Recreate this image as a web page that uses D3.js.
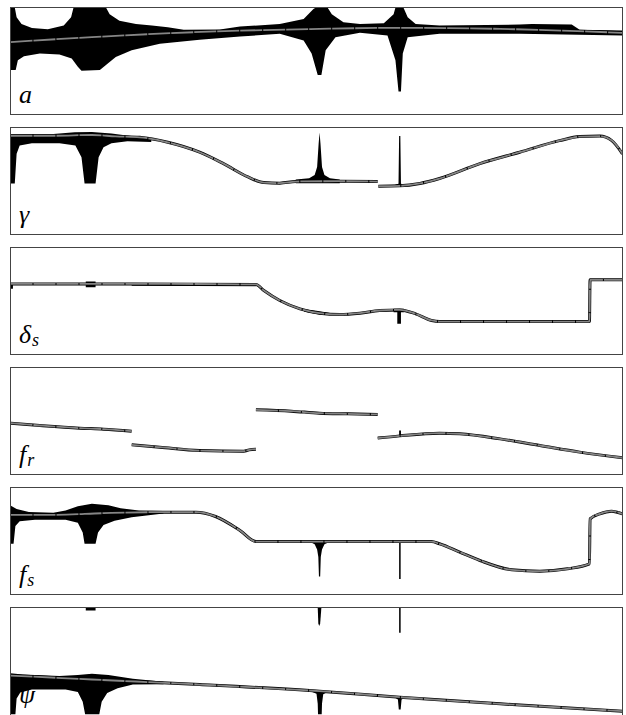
<!DOCTYPE html>
<html>
<head>
  <meta http-equiv="Content-Type" content="text/html; charset=UTF-8" />
  <title>Parameter traces</title>
  <style>
    body {
      padding: 0;
      margin: 0;
      background: #fff;
    }
  </style>
</head>
<body>

<svg width="626" height="715"></svg>

<script src="https://d3js.org/d3.v7.min.js"></script>
<script>

// x: percent along the run, v: percent of panel height (100 = top edge)

var labels = [["a"], ["γ"], ["δ", "s"], ["f", "r"], ["f", "s"], ["ψ"]]

// --- a
var a_mean = [[0,67.7],[13.3,72.3],[30,76.9],[50.5,80],[63.6,81],[80,80],[100,76.3]]
var a_hi = [[0,100],[0.7,100],[1.0,90.8],[1.8,84.6],[3.5,80.9],[6.1,79.7],[8.7,83.1],[9.9,90.8],[10.3,100],
  [15.6,100],[16.2,93.8],[17.8,87.7],[20.5,84.6],[23.1,83.1],[25.7,81.5],[28.3,79.1],[34.2,79.4],[37.5,82.2],
  [44.0,84.6],[47.9,89.2],[49.5,98.5],[49.9,100],[51.8,100],[52.5,93.8],[54.4,86.2],[57.1,84.6],[61.0,85.2],
  [62.6,93.8],[62.9,100],[64.2,100],[64.9,90.8],[66.2,84.6],[70.1,83.1],[83.2,84.0],[85.2,84.6],[91.7,84.0],
  [93.0,79.1],[100,78.5]]
var a_lo = [[0,41.5],[0.85,41.5],[1.2,50.8],[2.2,54.5],[4.8,56.9],[8.0,56.0],[10.0,52.3],[11.0,44.6],[11.6,40.9],
  [14.6,41.5],[15.9,47.7],[17.2,53.8],[19.8,60],[24.4,66.2],[30.9,69.8],[37.5,72.9],[44.0,75.4],[47.9,69.2],
  [49.2,56.9],[50.2,36.9],[50.8,36.9],[51.5,60],[53.1,72.3],[57.1,76.3],[61.6,73.8],[62.9,50.8],[63.4,21.5],
  [63.8,21.5],[64.1,56.9],[64.9,72.3],[70.1,75.4],[83.2,75.4],[100,73.8]]

// --- gamma
var g_mean1 = [[0,92.3],[7.4,92.3],[13.3,93.0],[17.2,91.7],[21.1,90.8],[25.7,86.2],[30.9,76.9],[34.8,66.2],
  [38.8,53.8],[41.4,48.5],[44.0,48.0],[46.6,49.5],[53.8,49.8],[60.0,49.5]]
var g_mean2 = [[60.1,45.2],[63.6,45.5],[66.9,47.7],[70.1,52.3],[76.7,66.2],[83.2,76.9],[89.7,87.7],[93.0,91.5],
  [96.3,92.0],[98.2,88.0],[100,75.4]]
var g_hi = [[0,94],[7,94],[10.5,95.6],[13.3,95.8],[16.5,94.5],[19,92.5],[23,90]]
var g_lo = [[0,47.7],[0.7,47.7],[1.0,75.4],[1.5,83.1],[3.5,85.2],[8,85.2],[10.6,83.1],[11.6,72.3],[12.1,47.7],
  [13.9,47.7],[14.4,72.3],[15.2,81.5],[16.5,85.2],[19.1,87.1],[23,86.5]]
var g_spike1 = [[46.6,51.5],[48.8,52.5],[49.7,55.5],[50.1,63],[50.35,85],[50.5,95.4],[50.65,85],[50.9,63],
  [51.3,55.5],[52.2,52.5],[53.8,51.5],[53.8,48],[46.6,48]]
var g_spike2 = [[62.9,46.8],[63.4,47.5],[63.5,92],[63.7,92],[63.8,47.5],[64.3,46.8],[64.3,44.3],[62.9,44.3]]

// --- delta_s
var d_mean = [[0,66.0],[19.8,66.0],[40.1,65.5],[41.4,59.8],[44.0,50.5],[47.3,42.7],[50.5,38.6],[53.8,37.4],
  [57.1,38.6],[60.3,41.1],[63.6,41.7],[66.2,38.0],[68.8,31.8],[70.1,30.8],[94.6,30.8],[94.7,69.8],[100,69.8]]
var d_tick = [[0,66],[0.4,66],[0.4,61.4],[0,61.4]]
var d_box = [[12.3,68.2],[13.9,68.2],[13.9,62.8],[12.3,62.8]]
var d_flat = [[19.8,65.5],[40.1,65.0],[40.1,63.8],[19.8,64.3]]
var d_wedge = [[47.9,42.5],[50,41],[52.5,38.5],[52.5,36.8],[50.5,37.3],[48,40]]
var d_tee = [[62.6,42.7],[64.3,42.7],[64.3,39.6],[63.8,39.6],[63.8,28.7],[63.2,28.7],[63.2,39.6],[62.6,39.6]]

// --- f_r
var r_seg1 = [[0,48.0],[4.8,45.8],[11.3,43.3],[15.2,42.4],[19.8,40.5]]
var r_seg2 = [[19.8,27.7],[24.4,25.5],[30.9,22.4],[38.1,21.8],[39.0,23.0],[40.1,23.7]]
var r_seg3 = [[40.1,60.4],[45.9,59.2],[50.5,57.3],[55.1,56.7],[60.0,56.1]]
var r_seg4 = [[60.0,34.0],[63.6,36.1],[70.1,38.6],[73.4,38.0],[80.0,33.3],[86.5,27.1],[93.0,20.9],[100,15.6]]
var r_tick = [[63.5,36.1],[63.5,41.1],[63.8,41.1],[63.8,36.1]]

// --- f_s
var s_mean = [[0,74.5],[7.4,74.5],[15.2,76.0],[23.1,76.9],[30.3,76.9],[33.5,72.9],[37.5,59.8],[40.1,49.5],
  [44.0,49.5],[68.8,49.5],[70.1,47.4],[73.4,39.6],[76.7,31.8],[81.9,23.1],[86.5,21.8],[91.0,24.0],[94.6,28.7],
  [94.7,70.7],[96.3,75.4],[98.2,77.9],[100,75.4]]
var s_hi = [[0,83.2],[1,80],[3,77],[7,76.3],[9,78.5],[11,82.5],[13.3,84.7],[16,83.5],[18,80.5],[21,78.5],[25,78]]
var s_lo = [[0,47.4],[0.5,47.4],[0.8,64],[1.5,68.5],[4,69.8],[9,69.8],[11,67],[11.8,58],[12.1,47.4],[13.9,47.4],
  [14.3,58],[15.2,65],[17,69],[19.8,72.3],[25,75.8]]
var s_spike1 = [[48.8,49.5],[49.7,47],[50.1,42],[50.3,35],[50.4,16.8],[50.6,16.8],[50.7,35],[50.9,42],[51.3,47],[52.3,49.5]]
var s_spike2 = [[63.5,49.5],[63.5,14.6],[63.75,14.6],[63.75,49.5]]

// --- psi
var p_mean = [[0,36.4],[13.3,32.7],[30.9,28.0],[50.5,21.8],[63.6,16.2],[80.0,10.0],[100,3.1]]
var p_hi = [[0,38.5],[2,37.5],[8,36],[11,37],[13.3,38.0],[16,37],[20,33.5],[25,30.5]]
var p_lo = [[0,0],[0.8,0],[1.0,15],[1.6,20.5],[3.5,23.4],[9,23.4],[11,21],[11.8,12],[12.2,0],[14.5,0],
  [14.9,12],[15.8,20],[17.5,24.5],[20,28],[25,28.3]]
var p_spike1 = [[49,21.8],[50.0,19.5],[50.2,10],[50.25,0],[50.85,0],[50.9,10],[51.1,19],[52,21.5]]
var p_spike2 = [[62.6,16.5],[63.3,14],[63.45,4.7],[63.75,4.7],[63.9,14],[64.6,16]]
var p_top1 = [[12.3,100],[13.9,100],[13.9,97.2],[12.3,97.2]]
var p_top2 = [[50.2,100],[50.8,100],[50.6,85],[50.45,82.6],[50.3,85]]
var p_top3 = [[63.5,100],[63.75,100],[63.75,76.3],[63.5,76.3]]

function band(hi, lo) {
  return hi.concat(lo.slice().reverse())
}

var panels = [
  {means: [a_mean], blobs: [band(a_hi, a_lo)]},
  {means: [g_mean1, g_mean2], blobs: [band(g_hi, g_lo), g_spike1, g_spike2]},
  {means: [d_mean], blobs: [d_tick, d_box, d_flat, d_wedge, d_tee]},
  {means: [r_seg1, r_seg2, r_seg3, r_seg4], blobs: [r_tick]},
  {means: [s_mean], blobs: [band(s_hi, s_lo), s_spike1, s_spike2]},
  {means: [p_mean], blobs: [band(p_hi, p_lo), p_spike1, p_spike2, p_top1, p_top2, p_top3]}
]

var left = 10.5, width = 612
var panelTop = 7.5, panelH = 107, panelStep = 120
var serif = "'Liberation Serif', 'Times New Roman', Times, 'DejaVu Serif', serif"

var svg = d3.select("svg")
var x = d3.scaleLinear().domain([0, 100]).range([left, left + width])

panels.forEach(function(p, i) {
  var top = panelTop + i * panelStep
  var y = d3.scaleLinear().domain([0, 100]).range([top + panelH, top])

  svg.append("clipPath").attr("id", "clip" + i)
    .append("rect")
    .attr("x", left).attr("y", top)
    .attr("width", width).attr("height", panelH)

  var g = svg.append("g")
  var inner = g.append("g").attr("clip-path", "url(#clip" + i + ")")

  var poly = d3.line().x(d => x(d[0])).y(d => y(d[1]))
  var curve = d3.line().x(d => x(d[0])).y(d => y(d[1])).curve(d3.curveMonotoneX)

  inner.selectAll("path.blob")
    .data(p.blobs)
    .enter()
    .append("path")
    .attr("class", "blob")
    .attr("d", d => poly(d) + "Z")
    .style("fill", "#000")

  inner.selectAll("path.edge")
    .data(p.means)
    .enter()
    .append("path")
    .attr("class", "edge")
    .attr("d", curve)
    .style("fill", "none")
    .style("stroke", "#000")
    .style("stroke-width", 3)

  inner.selectAll("path.mean")
    .data(p.means)
    .enter()
    .append("path")
    .attr("class", "mean")
    .attr("d", curve)
    .style("fill", "none")
    .style("stroke", "#858585")
    .style("stroke-width", 1.8)
    .style("stroke-dasharray", "22 1")

  g.append("rect")
    .attr("x", left).attr("y", top)
    .attr("width", width).attr("height", i === panels.length - 1 ? panelH + 3 : panelH)
    .style("fill", "none")
    .style("stroke", "#444")
    .style("stroke-width", 1)

  var t = g.append("text")
    .attr("x", 19)
    .attr("y", top + 95)
    .style("font-family", serif)
    .style("font-style", "italic")
    .style("font-size", "26px")
  t.append("tspan").text(labels[i][0])
  if (labels[i][1]) {
    t.append("tspan")
      .attr("dx", 1)
      .attr("dy", 3)
      .style("font-size", "18px")
      .text(labels[i][1])
  }
})

</script>
</body>
</html>
